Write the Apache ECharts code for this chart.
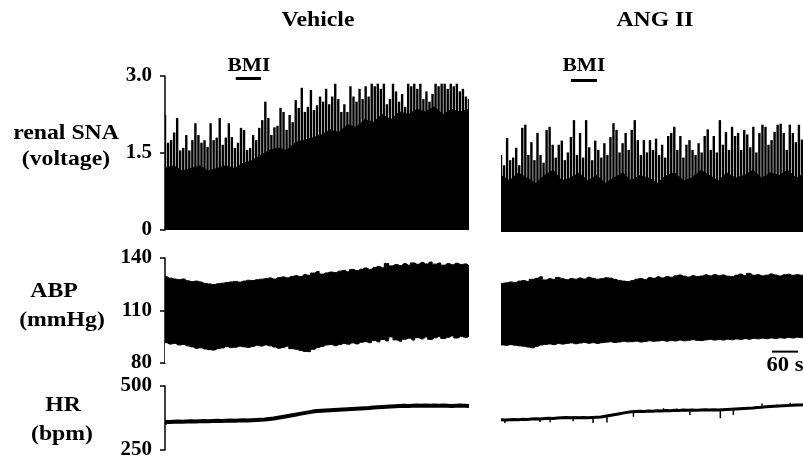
<!DOCTYPE html>
<html>
<head>
<meta charset="utf-8">
<script src="https://cdn.jsdelivr.net/npm/echarts@6/dist/echarts.min.js"></script>
<style>
  html, body { margin: 0; padding: 0; background: #fff; }
  #chart { width: 803px; height: 460px; }
</style>
</head>
<body>
<div id="chart"></div>
<script>
// column titles and row labels
const columnTitles = ["Vehicle", "ANG II"];
const rowLabels = [["renal SNA", "(voltage)"], ["ABP", "(mmHg)"], ["HR", "(bpm)"]];

// axis ranges / ticks (time axis in s)
const timeRange = [0, 700];
const snaTicks = [0, 1.5, 3.0];
const abpTicks = [80, 110, 140];
const hrTicks = [250, 500];

// BMI injection (s) and 60 s scale bar
const bmiVehicle = [163, 221];
const bmiAng = [161, 221];
const scaleBar = [624, 684];
const scaleText = "60 s";

// renal SNA burst peaks, one every 7 s (voltage)
const snaVehPeaks = [2.24, 1.7, 1.75, 1.9, 2.18, 1.55, 1.6, 1.85, 1.55, 1.75,
  2.08, 1.85, 1.7, 1.75, 1.62, 2.08, 1.75, 1.8, 2.18, 1.66,
  1.8, 2.08, 1.81, 1.6, 1.7, 1.99, 1.95, 1.56, 1.6, 1.85,
  1.75, 1.99, 2.14, 2.5, 2.18, 1.85, 2.0, 2.03, 2.38, 2.3,
  1.95, 2.24, 2.1, 2.53, 2.38, 2.77, 2.3, 2.4, 2.73, 2.34,
  2.43, 2.6, 2.5, 2.75, 2.45, 2.6, 2.85, 2.55, 2.3, 2.45,
  2.3, 2.8, 2.6, 2.5, 2.75, 2.55, 2.8, 2.6, 2.85, 2.8,
  2.85, 2.75, 2.85, 2.45, 2.55, 2.85, 2.7, 2.5, 2.65, 2.4,
  2.85, 2.8, 2.85, 2.75, 2.85, 2.55, 2.7, 2.5, 2.65, 2.85,
  2.8, 2.85, 2.85, 2.75, 2.85, 2.8, 2.85, 2.7, 2.75, 2.6, 2.55];
const snaAngPeaks = [1.5, 1.3, 1.83, 1.4, 1.45, 1.64, 1.3, 2.03, 2.09, 1.5,
  1.75, 1.4, 1.93, 1.5, 1.35, 1.99, 2.05, 1.7, 1.45, 1.7,
  1.78, 1.4, 1.55, 1.85, 2.18, 1.5, 1.93, 1.45, 2.18, 1.65,
  1.4, 1.78, 1.6, 1.45, 1.73, 1.5, 1.85, 2.12, 1.99, 1.55,
  1.73, 1.93, 1.6, 1.99, 2.18, 1.79, 1.5, 1.79, 1.55, 1.79,
  1.6, 1.82, 1.5, 1.7, 1.45, 1.87, 1.93, 2.05, 1.6, 1.87,
  1.45, 1.7, 1.79, 1.6, 1.5, 1.73, 1.55, 1.87, 2.0, 1.6,
  1.87, 1.55, 2.18, 1.7, 1.95, 1.6, 2.05, 1.87, 1.93, 1.6,
  1.99, 1.9, 1.65, 2.05, 1.55, 1.93, 2.09, 2.05, 1.7, 1.79,
  1.95, 2.09, 2.11, 1.93, 1.6, 2.09, 1.93, 1.75, 2.09, 1.8, 1.7];

// renal SNA solid band top, one every 20 s
const snaVehBody = [1.2, 1.25, 1.15, 1.2, 1.25, 1.15, 1.2, 1.25, 1.2, 1.3,
  1.35, 1.45, 1.55, 1.6, 1.55, 1.7, 1.75, 1.8, 1.85, 1.95,
  1.9, 2.05, 2.0, 2.15, 2.1, 2.25, 2.15, 2.3, 2.25, 2.35,
  2.3, 2.4, 2.25, 2.35, 2.3, 2.35];
const snaAngBody = [1.1, 1.0, 1.15, 1.05, 0.95, 1.1, 1.2, 1.0, 1.05, 1.15,
  1.0, 1.1, 0.95, 1.05, 1.15, 1.0, 1.1, 1.05, 0.95, 1.1,
  1.15, 1.0, 1.05, 1.2, 1.1, 1.0, 1.15, 1.05, 1.1, 1.2,
  1.05, 1.15, 1.1, 1.2, 1.05, 1.15];

// ABP envelope (mmHg), one bin every 10 s
const abpVehHigh = [129.3, 128.5, 128, 127.6, 128, 127, 126.5, 126.8, 126.3, 125.5,
  125.2, 124.8, 125.3, 125.6, 126, 126.3, 126.6, 126.2, 126.8, 127.3,
  127.1, 127.6, 127.9, 128.2, 128.6, 128, 128.8, 129.2, 128.7, 129.5,
  129.9, 129.4, 130.5, 130.1, 131.4, 132.3, 130.8, 131.5, 132, 131.7,
  132.5, 132.9, 132.2, 133.4, 132.8, 133.6, 134.3, 133.5, 134.6, 135.2,
  134.4, 136.9, 135.5, 136.3, 135.7, 136.8, 135.9, 137.2, 136.4, 137.5,
  136.6, 137.7, 136.5, 137.1, 135.9, 136.8, 136.2, 137, 136.3, 136.6, 135.5];
const abpVehLow = [91.6, 90.8, 91.2, 90.3, 90.6, 89.8, 89.2, 88.4, 88.7, 88,
  87.6, 87.4, 88.2, 88.6, 89.4, 88.8, 89, 89.6, 89.2, 88.9,
  89.5, 90.1, 89.7, 90.3, 89.8, 89.1, 88.4, 88.9, 89.6, 88.2,
  87.8, 87.1, 86.6, 86.5, 87.8, 88.9, 89.5, 90.3, 90.6, 89.9,
  90.5, 91.1, 90.7, 91.5, 90.9, 91.8, 92.2, 91.6, 92.8, 92.1,
  93.4, 92.6, 94.9, 93.2, 92.4, 93.6, 94.2, 93.1, 94.5, 93.8,
  94.9, 93.5, 94.4, 95.2, 94, 94.7, 95.5, 94.3, 95.1, 94.6, 95.3];
const abpAngHigh = [125.5, 125.8, 126.3, 126, 126.8, 127.1, 126.6, 127.8, 128.4, 129.3,
  127.5, 128.2, 127.7, 128.9, 128.1, 127.6, 128.3, 127.9, 128.6, 128,
  129, 128.4, 127.9, 128.2, 128.7, 128.5, 127.8, 127.2, 126.8, 126.5,
  127.1, 127.9, 128.3, 127.7, 128.8, 128.4, 129.3, 128.6, 129.4, 129,
  129.8, 130.3, 129.6, 129.1, 129.9, 129.4, 129.7, 130.4, 129.8, 130.6,
  129.9, 130.3, 129.6, 129.4, 130.2, 130.8, 129.9, 131.2, 130.1, 130.5,
  129.8, 130.2, 130.9, 130.3, 129.7, 130.4, 130.7, 130.1, 130.5, 130.2, 130.3];
const abpAngLow = [90.3, 90.1, 90.5, 90.2, 89.8, 89.6, 89.1, 88.7, 89.5, 90.3,
  90.6, 90.9, 90.5, 91.1, 90.8, 91.2, 91.5, 91, 91.4, 91.7,
  91.3, 91.6, 91.2, 91.6, 91.9, 92.1, 91.7, 92, 92.4, 92.1,
  92.2, 92.5, 92, 92.3, 92.7, 92.4, 92.6, 92.9, 92.5, 92.8,
  92.6, 93.1, 92.7, 93, 93.3, 92.9, 92.8, 93.2, 93.5, 93.1,
  93.4, 93.1, 93.6, 93.3, 93.7, 93.5, 93.9, 93.6, 94.1, 93.8,
  94.2, 93.9, 94.3, 94, 94.4, 94.2, 94.6, 94.3, 94.7, 94.5, 94.8];

// HR (bpm), one value every 10 s
const hrVeh = [360, 359, 360, 361, 360, 361, 362, 361, 362, 363,
  362, 363, 364, 363, 364, 365, 364, 365, 366, 365,
  366, 367, 368, 369, 371, 373, 376, 379, 382, 385,
  388, 391, 394, 397, 400, 402, 403, 404, 405, 406,
  407, 408, 409, 410, 411, 412, 413, 414, 416, 417,
  418, 419, 420, 421, 422, 423, 422, 423, 424, 423,
  424, 423, 424, 423, 424, 423, 422, 423, 424, 423, 422];
const hrAng = [368, 367, 368, 369, 368, 370, 369, 371, 372, 371,
  373, 374, 373, 375, 376, 377, 376, 377, 376, 377,
  376, 377, 378, 379, 382, 385, 388, 391, 394, 397,
  399, 400, 401, 400, 402, 401, 403, 402, 404, 403,
  405, 404, 406, 405, 406, 405, 406, 407, 406, 407,
  406, 407, 408, 409, 410, 411, 412, 413, 414, 416,
  417, 419, 420, 421, 422, 423, 424, 425, 426, 426, 427];
// short artefact ticks on the HR traces [time s, bpm]
const hrVehGlitches = [[2, 348]];
const hrAngGlitches = [[9, 355], [90, 359], [113, 358], [166, 362], [212, 355], [244, 357],
  [305, 380], [374, 413], [405, 412], [435, 387], [505, 374], [535, 387],
  [601, 432], [636, 428], [666, 435]];

const serif = "Liberation Serif";
const chart = echarts.init(document.getElementById("chart"));

function pairs(values, step) {
  return values.map((v, i) => [i * step, v]);
}
function glitchData(list, trace, step) {
  return list.map(g => [g[0], trace[Math.round(g[0] / step)], g[1]]);
}

function spikeItem(params, api) {
  let p0 = api.coord([api.value(0), 0]),
    p1 = api.coord([api.value(0), api.value(1)]);
  return {
    type: "line",
    shape: { x1: p0[0], y1: p0[1], x2: p1[0], y2: p1[1] },
    style: { stroke: "#000", lineWidth: 2.4 }
  };
}
function tickItem(params, api) {
  let p0 = api.coord([api.value(0), api.value(1)]),
    p1 = api.coord([api.value(0), api.value(2)]);
  return {
    type: "line",
    shape: { x1: p0[0], y1: p0[1], x2: p1[0], y2: p1[1] },
    style: { stroke: "#000", lineWidth: 1.5 }
  };
}

// grids: 0/1 SNA, 2/3 ABP, 4/5 HR (left = Vehicle, right = ANG II)
let grids = [
  { left: 165, top: 76, width: 304, height: 154 },
  { left: 501, top: 78, width: 304, height: 154 },
  { left: 165, top: 258, width: 304, height: 105 },
  { left: 501, top: 258, width: 304, height: 105 },
  { left: 165, top: 386, width: 304, height: 64 },
  { left: 501, top: 386, width: 304, height: 64 }
].map(g => Object.assign({ outerBoundsMode: "none", containLabel: false }, g));

let xAxes = grids.map((g, i) => ({
  type: "value", gridIndex: i, min: timeRange[0], max: timeRange[1], show: false
}));

function yAxis(i, ticks, fmt) {
  let shown = i % 2 === 0;
  return {
    type: "value",
    gridIndex: i,
    min: ticks[0],
    max: ticks[ticks.length - 1],
    interval: ticks[1] - ticks[0],
    show: shown,
    offset: 4,
    splitLine: { show: false },
    axisLine: { show: true, lineStyle: { color: "#000", width: 1.5 } },
    axisTick: { show: true, inside: false, length: 5, lineStyle: { color: "#000", width: 1.5 } },
    axisLabel: {
      show: true, margin: 9, color: "#000",
      fontFamily: serif, fontWeight: "bold", fontSize: 21,
      formatter: fmt
    }
  };
}
let snaFmt = v => (v === 0 ? "0" : v.toFixed(1));
let yAxes = [
  yAxis(0, snaTicks, snaFmt), yAxis(1, snaTicks, snaFmt),
  yAxis(2, abpTicks), yAxis(3, abpTicks),
  yAxis(4, hrTicks), yAxis(5, hrTicks)
];

let series = [];
[[snaVehBody, snaVehPeaks, bmiVehicle], [snaAngBody, snaAngPeaks, bmiAng]].forEach((d, k) => {
  series.push({
    type: "line", xAxisIndex: k, yAxisIndex: k, data: pairs(d[0], 20),
    symbol: "none", silent: true,
    lineStyle: { color: "#000", width: 1 },
    areaStyle: { color: "#000", opacity: 1 }
  });
  series.push({
    type: "custom", xAxisIndex: k, yAxisIndex: k, data: pairs(d[1], 7),
    renderItem: spikeItem, silent: true, clip: true
  });
  series.push({
    type: "line", xAxisIndex: k, yAxisIndex: k,
    data: [[d[2][0], 2.95], [d[2][1], 2.95]],
    symbol: "none", silent: true,
    lineStyle: { color: "#000", width: 3 }
  });
});
// ABP: black area up to the systolic envelope, white area up to the diastolic envelope
[[abpVehLow, abpVehHigh], [abpAngLow, abpAngHigh]].forEach((d, k) => {
  series.push({
    type: "line", xAxisIndex: 2 + k, yAxisIndex: 2 + k, data: pairs(d[1], 10),
    step: "middle", symbol: "none", silent: true, z: 2,
    lineStyle: { color: "#000", width: 1 },
    areaStyle: { color: "#000", opacity: 1, origin: "start" }
  });
  series.push({
    type: "line", xAxisIndex: 2 + k, yAxisIndex: 2 + k, data: pairs(d[0], 10),
    step: "middle", symbol: "none", silent: true, z: 3,
    lineStyle: { color: "#000", width: 1 },
    areaStyle: { color: "#fff", opacity: 1, origin: "start" }
  });
});
series.push({
  type: "line", xAxisIndex: 3, yAxisIndex: 3, z: 5,
  data: [[scaleBar[0], 86.5], [scaleBar[1], 86.5]],
  symbol: "none", silent: true,
  lineStyle: { color: "#000", width: 2 }
});
[[hrVeh, hrVehGlitches, 4], [hrAng, hrAngGlitches, 3]].forEach((d, k) => {
  series.push({
    type: "line", xAxisIndex: 4 + k, yAxisIndex: 4 + k, data: pairs(d[0], 10),
    symbol: "none", silent: true,
    lineStyle: { color: "#000", width: d[2] }
  });
  series.push({
    type: "custom", xAxisIndex: 4 + k, yAxisIndex: 4 + k, data: glitchData(d[1], d[0], 10),
    renderItem: tickItem, silent: true
  });
});

// scanned lettering is a little wider than the serif font, hence scaleX
function label(text, x, y, size) {
  return {
    type: "text", x: x, y: y, scaleX: 1.13, silent: true, z: 100,
    style: {
      text: text, fill: "#000", textAlign: "center", textVerticalAlign: "middle",
      font: "bold " + size + "px '" + serif + "'"
    }
  };
}
let graphics = [
  label(columnTitles[0], 318, 21, 21),
  label(columnTitles[1], 655, 21, 21),
  label("BMI", 249, 66, 19),
  label("BMI", 584, 66, 19),
  label(rowLabels[0][0], 66, 134, 21),
  label(rowLabels[0][1], 66, 160, 21),
  label(rowLabels[1][0], 54, 292, 21),
  label(rowLabels[1][1], 62, 321, 21),
  label(rowLabels[2][0], 63, 406, 21),
  label(rowLabels[2][1], 62, 435, 21),
  label(scaleText, 785, 366, 20)
];

let option = {
  animation: false,
  backgroundColor: "#fff",
  grid: grids,
  xAxis: xAxes,
  yAxis: yAxes,
  series: series,
  graphic: graphics
};
chart.setOption(option);
</script>
</body>
</html>
